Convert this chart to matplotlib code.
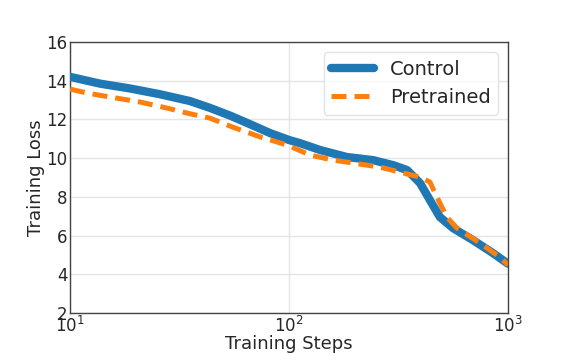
import matplotlib
matplotlib.use("Agg")
import matplotlib.pyplot as plt

# Control run
control_steps = [10, 13.7, 18.8, 25.8, 35.3, 43.5, 53.8, 66.2, 81.8, 100,
                 112, 139, 184, 242, 299, 346, 397, 440, 489, 561, 692, 854, 1000]
control_loss = [14.2, 13.85, 13.6, 13.3, 12.95, 12.6, 12.2, 11.76, 11.3, 10.94,
                10.78, 10.42, 10.06, 9.9, 9.64, 9.39, 8.71, 7.84, 6.96, 6.39, 5.77, 5.10, 4.55]

# Pretrained run
pre_steps = [10, 12, 15.2, 20.9, 27.7, 34.2, 43.5, 55.5, 73.8, 98,
             125, 159, 196, 260, 321, 397, 440, 474, 526, 585, 745, 918, 1000]
pre_loss = [13.57, 13.36, 13.16, 12.9, 12.59, 12.33, 12.07, 11.6, 11.1, 10.68,
            10.16, 9.9, 9.75, 9.54, 9.28, 9.02, 8.77, 7.99, 6.96, 6.39, 5.62, 4.89, 4.48]

fig = plt.figure(figsize=(5.65, 3.53), dpi=100)
ax = fig.add_axes([0.124, 0.113, 0.775, 0.768])

ax.plot(control_steps, control_loss, color="#1f77b4", linewidth=6, label="Control",
        solid_capstyle="round", zorder=3)
ax.plot(pre_steps, pre_loss, color="#ff7f0e", linewidth=3.6, linestyle=(0, (3, 1.6)),
        label="Pretrained", zorder=4)

ax.set_xscale("log")
ax.set_xlim(10, 1000)
ax.set_ylim(2, 16)
ax.set_yticks([2, 4, 6, 8, 10, 12, 14, 16])
ax.minorticks_off()

ax.grid(True, color="#e5e5e5", linewidth=1)
ax.set_axisbelow(True)
for s in ax.spines.values():
    s.set_color("#444444")
    s.set_linewidth(1)
ax.tick_params(length=0, labelsize=12, colors="#262626", pad=2)

ax.set_xlabel("Training Steps", fontsize=13, color="#262626", labelpad=-1)
ax.set_ylabel("Training Loss", fontsize=13, color="#262626", labelpad=1)

leg = ax.legend(loc="upper right", fontsize=14, framealpha=0.8, edgecolor="#dddddd",
                handlelength=2.2, borderpad=0.4)
for t in leg.get_texts():
    t.set_color("#262626")

fig.savefig("out.png", dpi=100)
